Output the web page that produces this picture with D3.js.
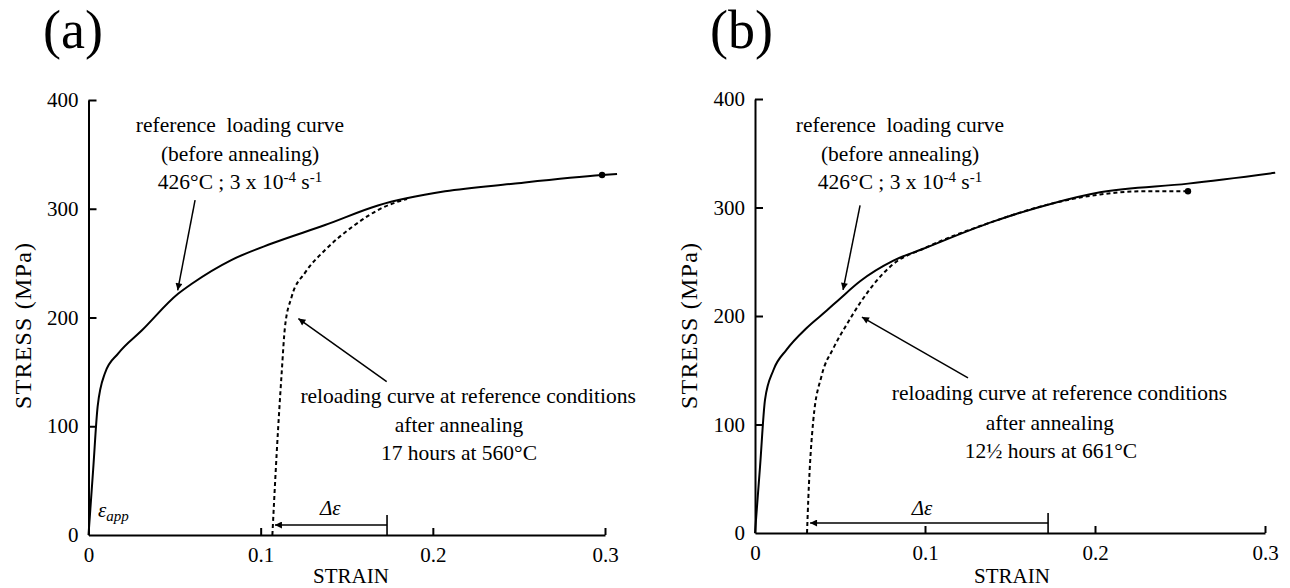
<!DOCTYPE html>
<html>
<head>
<meta charset="utf-8">
<script src="https://cdn.jsdelivr.net/npm/d3@7.8.5/dist/d3.min.js"></script>
<style>
  html, body { margin: 0; padding: 0; background: #fff; }
  svg { display: block; }
  svg text { font-family: "Liberation Serif", "Tinos", "DejaVu Serif", "Times New Roman", serif; fill: #000; }
  .tick text { font-size: 21px; }
  .ann { font-size: 21.5px; }
</style>
</head>
<body>
<svg id="chart" width="1290" height="588"></svg>
<script>
// панель (a): эталонная кривая и повторное нагружение после 17 ч при 560°C
const strainRefA = [0, 0.0027, 0.0053, 0.0096, 0.0173, 0.0309, 0.0522, 0.060, 0.0832, 0.1064, 0.1374, 0.1681, 0.2071, 0.2466, 0.2983, 0.307];
const stressRefA = [0, 60, 118, 149, 167, 188, 222, 231, 253, 268, 285, 303, 316, 323, 331, 332];
const strainReloadA = [0.1068, 0.1093, 0.1122, 0.1141, 0.118, 0.1257, 0.1374, 0.1529, 0.1722, 0.185];
const stressReloadA = [0, 75, 149, 191, 219, 241, 262, 283, 302, 309];
const endPointA = [0.2983, 331];
const deltaA = [0.1083, 0.1734];   // Δε: от начала повторного нагружения до эталонной деформации

// панель (b): 12½ ч при 661°C
const strainRefB = [0, 0.003, 0.0059, 0.0108, 0.0186, 0.0304, 0.0422, 0.05, 0.0618, 0.0814, 0.099, 0.140, 0.1755, 0.203, 0.2547, 0.306];
const stressRefB = [0, 62, 123, 150, 169, 189, 205, 216, 232, 251, 262, 287, 304, 314, 322, 332];
const strainReloadB = [0.0306, 0.0314, 0.0343, 0.0392, 0.046, 0.0539, 0.0618, 0.0814, 0.099, 0.140, 0.1755, 0.203, 0.2304, 0.2547];
const stressReloadB = [0, 33, 104, 145, 170, 192, 212, 248, 262, 287, 304, 312, 315, 315];
const endPointB = [0.2547, 315];
const deltaB = [0.0324, 0.1724];

const xTicks = [0, 0.1, 0.2, 0.3];
const yTicks = [0, 100, 200, 300, 400];
const xTickLabels = ['0', '0.1', '0.2', '0.3'];

const svg = d3.select('#chart');

// наконечник стрелки
const defs = svg.append('defs');
defs.append('marker')
    .attr('id', 'head')
    .attr('viewBox', '0 0 10 10')
    .attr('refX', 10).attr('refY', 5)
    .attr('markerUnits', 'userSpaceOnUse')
    .attr('markerWidth', 10).attr('markerHeight', 7)
    .attr('orient', 'auto')
    .append('path').attr('d', 'M0,0 L10,5 L0,10 z').attr('fill', '#000');

function zip(xs, ys) { return xs.map((v, i) => [v, ys[i]]); }

function drawPanel(cfg) {
    const x = d3.scaleLinear().domain([0, 0.3]).range(cfg.xr);
    const y = d3.scaleLinear().domain([0, 400]).range(cfg.yr);
    const g = svg.append('g');

    g.append('text')
        .attr('x', cfg.titleX).attr('y', 48)
        .style('font-size', '54px')
        .text(cfg.title);

    // оси
    const xAxis = d3.axisBottom(x).tickValues(xTicks)
        .tickFormat((d, i) => xTickLabels[i])
        .tickSizeInner(-7).tickSizeOuter(0).tickPadding(12);
    const yAxis = d3.axisLeft(y).tickValues(yTicks)
        .tickFormat(d3.format('d'))
        .tickSizeInner(-8).tickSizeOuter(0).tickPadding(10);

    const gx = g.append('g').attr('transform', `translate(0,${cfg.yr[0]})`).call(xAxis);
    const gy = g.append('g').attr('transform', `translate(${cfg.xr[0]},0)`).call(yAxis);
    [gx, gy].forEach(a => {
        a.attr('font-family', null);
        a.select('.domain').attr('stroke', '#000').attr('stroke-width', 2);
        a.selectAll('.tick line').attr('stroke', '#000').attr('stroke-width', 2);
        a.selectAll('.tick text').attr('fill', '#000');
    });
    gx.selectAll('.tick').filter(d => d === 0).select('line').remove();
    gy.selectAll('.tick').filter(d => d === 0).select('line').remove();

    g.append('text')
        .attr('x', cfg.xLabelX).attr('y', 583)
        .attr('text-anchor', 'middle')
        .style('font-size', '21px')
        .text('STRAIN');
    g.append('text')
        .attr('transform', `translate(${cfg.xr[0] - 58},326) rotate(-90)`)
        .attr('text-anchor', 'middle')
        .attr('textLength', 166).attr('lengthAdjust', 'spacing')
        .style('font-size', '24px')
        .text('STRESS (MPa)');

    const line = d3.line()
        .x(d => x(d[0])).y(d => y(d[1]))
        .curve(d3.curveMonotoneX);

    g.append('path')
        .datum(zip(cfg.refX, cfg.refY))
        .attr('d', line)
        .attr('fill', 'none').attr('stroke', '#000').attr('stroke-width', 2);

    g.append('path')
        .datum(zip(cfg.reX, cfg.reY))
        .attr('d', line)
        .attr('fill', 'none').attr('stroke', '#000').attr('stroke-width', 2)
        .attr('stroke-dasharray', '4,3');

    g.append('circle')
        .attr('cx', x(cfg.dot[0])).attr('cy', y(cfg.dot[1]))
        .attr('r', 3.2).attr('fill', '#000');

    // стрелка Δε
    g.append('line')
        .attr('x1', x(cfg.delta[1])).attr('x2', x(cfg.delta[1]))
        .attr('y1', y(0)).attr('y2', y(0) - 20)
        .attr('stroke', '#000').attr('stroke-width', 1.6);
    g.append('line')
        .attr('x1', x(cfg.delta[1])).attr('x2', x(cfg.delta[0]))
        .attr('y1', y(0) - 10).attr('y2', y(0) - 10)
        .attr('stroke', '#000').attr('stroke-width', 1.6)
        .attr('marker-end', 'url(#head)');
    g.append('text')
        .attr('x', x(cfg.deltaLabel[0])).attr('y', y(cfg.deltaLabel[1]))
        .attr('text-anchor', 'middle')
        .style('font-size', '21px').style('font-style', 'italic')
        .text('\u0394\u03b5');

    if (cfg.eps) {
        const t = g.append('text')
            .attr('x', x(cfg.eps[0])).attr('y', y(cfg.eps[1]))
            .style('font-style', 'italic').style('font-size', '21px');
        t.append('tspan').text('\u03b5');
        t.append('tspan').attr('dy', 4).style('font-size', '15px').text('app');
    }

    // стрелки к подписям
    cfg.arrows.forEach(a => {
        g.append('line')
            .attr('x1', x(a[0])).attr('y1', y(a[1]))
            .attr('x2', x(a[2])).attr('y2', y(a[3]))
            .attr('stroke', '#000').attr('stroke-width', 1.5)
            .attr('marker-end', 'url(#head)');
    });

    const r = cfg.refNote;
    g.append('text').attr('class', 'ann').attr('text-anchor', 'middle')
        .attr('x', x(r.x)).attr('y', y(r.y[0]))
        .style('white-space', 'pre')
        .text('reference  loading curve');
    g.append('text').attr('class', 'ann').attr('text-anchor', 'middle')
        .attr('x', x(r.x)).attr('y', y(r.y[1]))
        .text('(before annealing)');
    const t3 = g.append('text').attr('class', 'ann').attr('text-anchor', 'middle')
        .attr('x', x(r.x)).attr('y', y(r.y[2]));
    t3.append('tspan').text('426°C ; 3 x 10');
    t3.append('tspan').attr('dy', -7).style('font-size', '15px').text('-4');
    t3.append('tspan').attr('dy', 7).text(' s');
    t3.append('tspan').attr('dy', -7).style('font-size', '15px').text('-1');

    cfg.reNote.forEach(n => {
        g.append('text').attr('class', 'ann').attr('text-anchor', 'middle')
            .attr('x', x(n[0])).attr('y', y(n[1]))
            .text(n[2]);
    });
}

drawPanel({
    title: '(a)', titleX: 43, xLabelX: 351,
    xr: [88.5, 605], yr: [535, 100],
    refX: strainRefA, refY: stressRefA,
    reX: strainReloadA, reY: stressReloadA,
    dot: endPointA, delta: deltaA,
    deltaLabel: [0.1404, 18], eps: [0.0055, 17],
    arrows: [[0.0619, 308, 0.0518, 225], [0.1732, 141, 0.1219, 199]],
    refNote: { x: 0.088, y: [370.6, 343.9, 318.2] },
    reNote: [[0.2205, 121.7, 'reloading curve at reference conditions'],
             [0.2152, 95, 'after annealing'],
             [0.2152, 69, '17 hours at 560°C']]
});

drawPanel({
    title: '(b)', titleX: 710, xLabelX: 1012,
    xr: [755, 1265], yr: [533, 99],
    refX: strainRefB, refY: stressRefB,
    reX: strainReloadB, reY: stressReloadB,
    dot: endPointB, delta: deltaB,
    deltaLabel: [0.0982, 16.6], eps: null,
    arrows: [[0.0618, 302, 0.0518, 224], [0.1253, 143, 0.0629, 199]],
    refNote: { x: 0.0853, y: [369.6, 342.9, 317] },
    reNote: [[0.1791, 122.6, 'reloading curve at reference conditions'],
             [0.1735, 95, 'after annealing'],
             [0.1741, 69.1, '12½ hours at 661°C']]
});
</script>
</body>
</html>
